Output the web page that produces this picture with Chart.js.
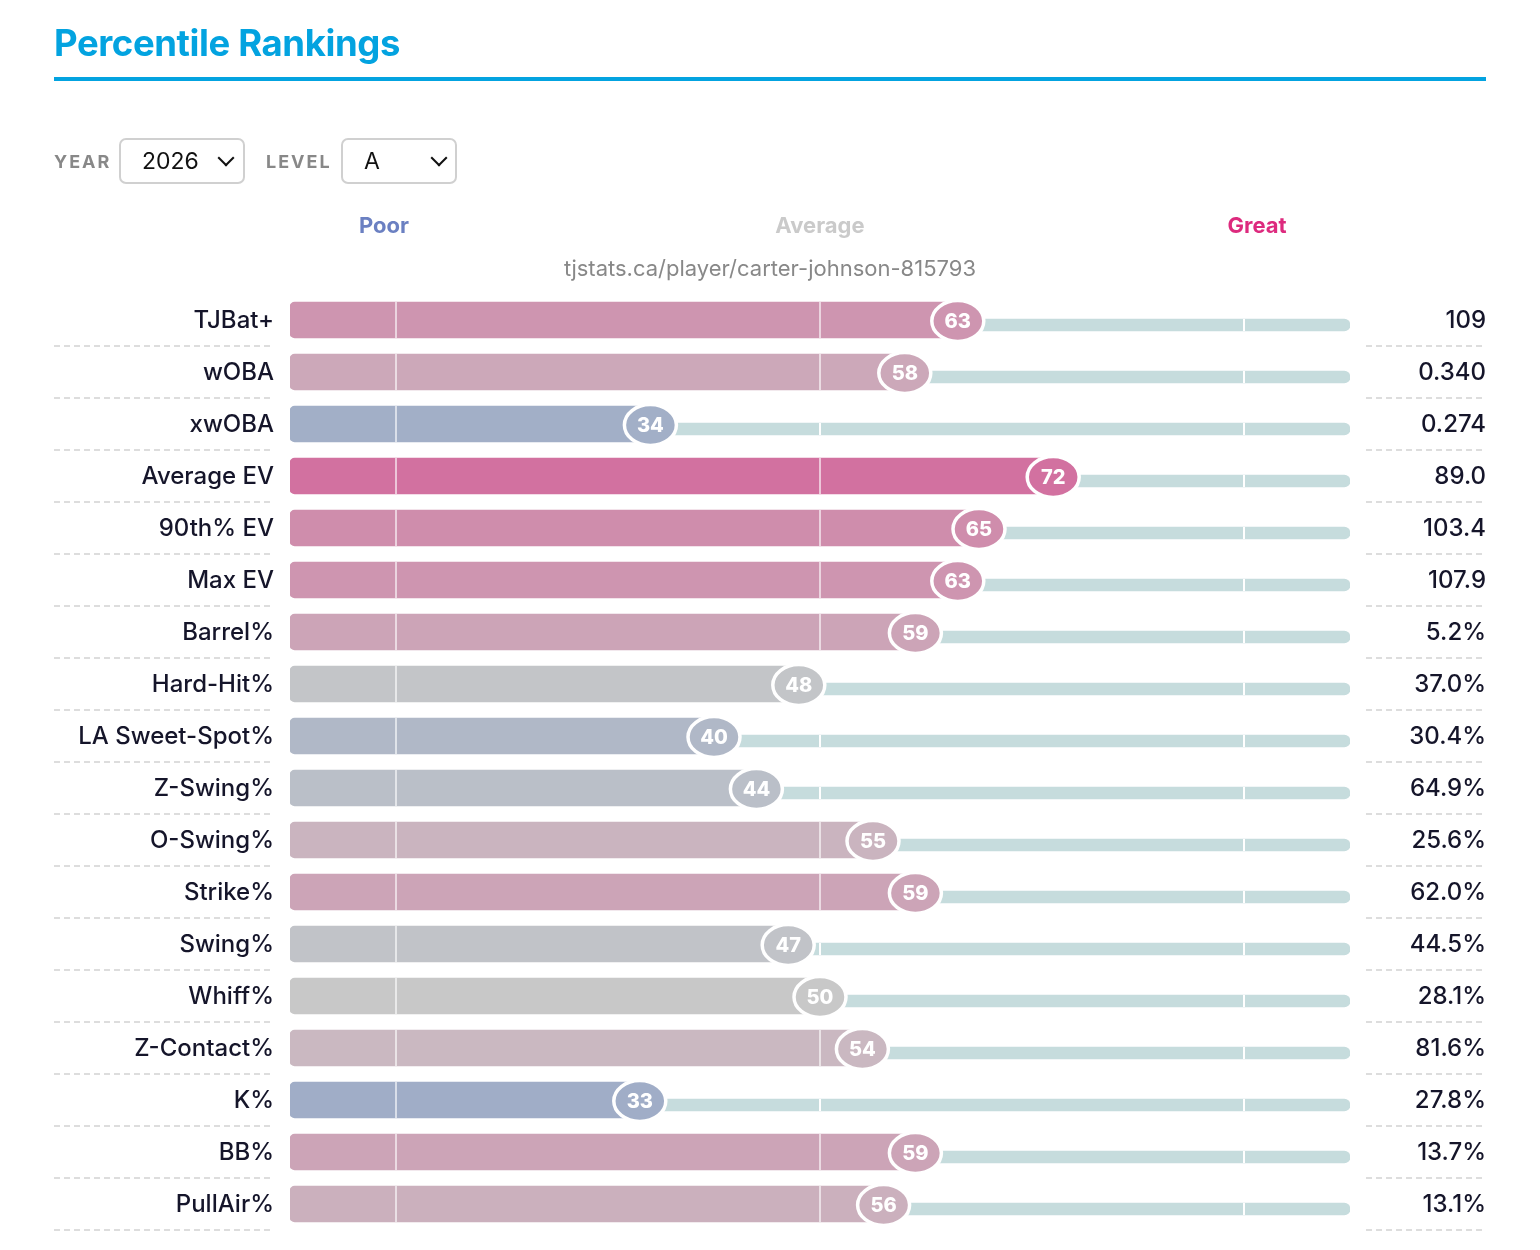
<!DOCTYPE html>
<html>
<head>
<meta charset="utf-8">
<script src="https://cdn.jsdelivr.net/npm/chart.js@4/dist/chart.umd.min.js"></script>
<style>
  html, body { margin: 0; padding: 0; background: #fff; overflow: hidden; }
  body { width: 1540px; height: 1250px; position: relative; font-family: Inter, 'Noto Sans', sans-serif; }
  #chartWrap { position: absolute; left: 0; top: 0; width: 1540px; height: 1250px; }
  .abs { position: absolute; white-space: nowrap; }
  .title { left: 54px; top: 21px; font-size: 36.5px; font-weight: 700; color: #03a3e0; letter-spacing: -0.4px; }
  .rule { left: 54px; top: 77px; width: 1432px; height: 4px; background: #03a3e0; }
  .flabel { top: 151px; font-size: 18px; font-weight: 700; color: #888; letter-spacing: 2px; }
  .select { top: 138px; height: 42px; border: 2px solid #d0d0d0; border-radius: 7px; font-size: 23px; color: #111; line-height: 42px; box-sizing: content-box; }
  .select span { position: absolute; left: 21px; }
  .select i { position: absolute; top: 12px; width: 10px; height: 10px; border-right: 2px solid #111; border-bottom: 2px solid #111; transform: rotate(45deg); }
  .scale { top: 212px; font-size: 22px; font-weight: 700; transform: translateX(-50%); }
  .url { left: 770px; top: 255px; font-size: 22px; color: #888; transform: translateX(-50%); }
</style>
</head>
<body>
<div id="chartWrap"><canvas id="percentileChart"></canvas></div>

<div class="abs title">Percentile Rankings</div>
<div class="abs rule"></div>
<div class="abs flabel" style="left:54px">YEAR</div>
<div class="abs select" style="left:119px; width:122px"><span>2026</span><i style="left:99px"></i></div>
<div class="abs flabel" style="left:266px">LEVEL</div>
<div class="abs select" style="left:341px; width:112px"><span>A</span><i style="left:90px"></i></div>
<div class="abs scale" style="left:384px; color:#6b80c2">Poor</div>
<div class="abs scale" style="left:820px; color:#cacaca">Average</div>
<div class="abs scale" style="left:1257px; color:#dd2a7e">Great</div>
<div class="abs url">tjstats.ca/player/carter-johnson-815793</div>

<script>
// Chart data
const metricLabels = ['TJBat+', 'wOBA', 'xwOBA', 'Average EV', '90th% EV', 'Max EV', 'Barrel%', 'Hard-Hit%',
    'LA Sweet-Spot%', 'Z-Swing%', 'O-Swing%', 'Strike%', 'Swing%', 'Whiff%', 'Z-Contact%', 'K%', 'BB%', 'PullAir%'];
const percentiles = [63, 58, 34, 72, 65, 63, 59, 48, 40, 44, 55, 59, 47, 50, 54, 33, 59, 56];
const statValues = ['109', '0.340', '0.274', '89.0', '103.4', '107.9', '5.2%', '37.0%', '30.4%', '64.9%',
    '25.6%', '62.0%', '44.5%', '28.1%', '81.6%', '27.8%', '13.7%', '13.1%'];
const trackMax = 100;
const gridMarks = [10, 50, 90];

const FONT = "Inter, 'Noto Sans', sans-serif";
const TEXT_COLOR = '#15152a';
const BAR_H = 36;
const TRACK_H = 12;
const TRACK_SHIFT = 5;

// Grey at 50th, blending out to blue (poor) or pink (great)
const pctColor = (p) => {
    const grey = [200, 200, 200];
    const end = p < 50 ? [82, 122, 196] : [222, 2, 108];
    const t = Math.min(1, Math.abs(p - 50) / 50);
    const c = grey.map((g, k) => Math.round(g + (end[k] - g) * t));
    return `rgb(${c[0]}, ${c[1]}, ${c[2]})`;
};

// No extra label padding on the category axes, rows fill the area evenly
const fitAxis = (width) => (s) => {
    s.width = width;
    s.paddingTop = 0;
    s.paddingBottom = 0;
};

// Shift the track slightly down, then draw marks, separators and badges
const rowDecor = {
    id: 'rowDecor',
    beforeDatasetDraw(chart, args) {
        if (args.index === 1) {
            chart.ctx.save();
            chart.ctx.translate(0, TRACK_SHIFT);
        }
    },
    afterDatasetDraw(chart, args) {
        if (args.index === 1) chart.ctx.restore();
    },
    afterDatasetsDraw(chart) {
        const ctx = chart.ctx;
        const xs = chart.scales.x, ys = chart.scales.y;
        const area = chart.chartArea;
        const rowH = ys.getPixelForValue(1) - ys.getPixelForValue(0);

        percentiles.forEach((p, i) => {
            const cy = ys.getPixelForValue(i);

            // white divider marks
            gridMarks.forEach(m => {
                const gx = xs.getPixelForValue(m);
                if (p > m) {
                    ctx.fillStyle = 'rgba(255,255,255,0.6)';
                    ctx.fillRect(gx - 1, cy - BAR_H / 2, 2, BAR_H);
                } else {
                    ctx.fillStyle = '#ffffff';
                    ctx.fillRect(gx - 1, cy + TRACK_SHIFT - TRACK_H / 2, 2, TRACK_H);
                }
            });

            // dashed separators under labels and values
            const sy = cy + rowH / 2;
            ctx.save();
            ctx.strokeStyle = '#d2d2d2';
            ctx.lineWidth = 1.5;
            ctx.setLineDash([6, 4]);
            ctx.beginPath();
            ctx.moveTo(54, sy);
            ctx.lineTo(area.left - 17, sy);
            ctx.moveTo(area.right + 16, sy);
            ctx.lineTo(chart.width - 54, sy);
            ctx.stroke();
            ctx.restore();

            // percentile badge
            const bx = xs.getPixelForValue(p);
            const by = cy + 1;
            ctx.beginPath();
            ctx.ellipse(bx, by, 26, 20.5, 0, 0, Math.PI * 2);
            ctx.fillStyle = pctColor(p);
            ctx.fill();
            ctx.lineWidth = 3.5;
            ctx.strokeStyle = '#ffffff';
            ctx.stroke();
            ctx.fillStyle = '#ffffff';
            ctx.font = `800 20px ${FONT}`;
            ctx.textAlign = 'center';
            ctx.textBaseline = 'middle';
            ctx.fillText(String(p), bx, by + 1);
        });
    }
};

const ctx = document.getElementById('percentileChart').getContext('2d');
const percentileChart = new Chart(ctx, {
    type: 'bar',
    data: {
        labels: metricLabels,
        datasets: [
            {
                label: 'Percentile',
                data: percentiles,
                backgroundColor: c => pctColor(c.raw),
                barThickness: BAR_H,
                borderRadius: 5,
                borderSkipped: false,
                grouped: false
            },
            {
                label: 'Track',
                data: percentiles.map(() => trackMax),
                backgroundColor: '#c6dcdd',
                barThickness: TRACK_H,
                borderRadius: 6,
                borderSkipped: false,
                grouped: false
            }
        ]
    },
    options: {
        indexAxis: 'y',
        responsive: true,
        maintainAspectRatio: false,
        animation: false,
        layout: { padding: { top: 294, bottom: 20, left: 0, right: 54 } },
        plugins: {
            legend: { display: false },
            tooltip: { enabled: false }
        },
        scales: {
            x: { min: 0, max: 100, display: false },
            y: {
                position: 'left',
                offset: true,
                grid: { display: false, drawTicks: false },
                border: { display: false },
                ticks: { padding: 16, labelOffset: 1, color: TEXT_COLOR, font: { family: FONT, size: 24, weight: 500 } },
                afterFit: fitAxis(290)
            },
            y2: {
                type: 'category',
                labels: statValues,
                position: 'right',
                offset: true,
                grid: { display: false, drawTicks: false },
                border: { display: false },
                ticks: { crossAlign: 'far', padding: 0, labelOffset: 1, color: TEXT_COLOR, font: { family: FONT, size: 24, weight: 500 } },
                afterFit: fitAxis(136)
            }
        }
    },
    plugins: [rowDecor]
});
</script>
</body>
</html>
